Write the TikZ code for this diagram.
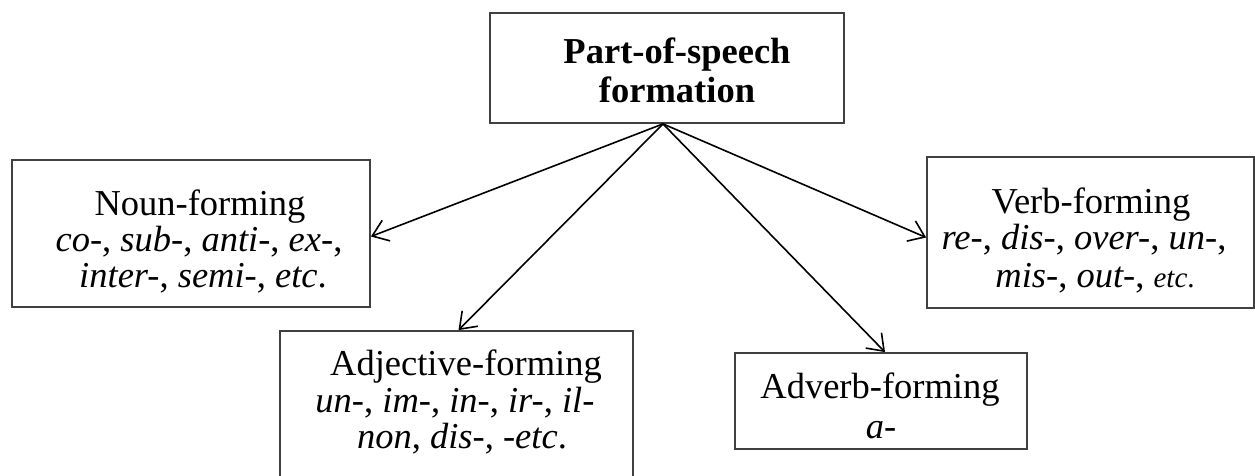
\documentclass[tikz,border=0pt]{standalone}
\usepackage{fontspec}
\setmainfont{Liberation Serif}
\usetikzlibrary{arrows.meta,calc}
\begin{document}
\begin{tikzpicture}[x=1pt,y=-1pt,
  box/.style={draw=black!75, line width=1.8pt, inner sep=0pt, rectangle},
  txt/.style={anchor=base, inner sep=0pt, font=\fontsize{36.5}{37}\selectfont},
  conn/.style={line width=1.6pt, -{Straight Barb[length=15pt,width=22pt,line width=1.6pt]}}]
\useasboundingbox (0,0) rectangle (1255,475);
\fill[white] (0,0) rectangle (1255,475);
% boxes
\node[box, minimum width=354pt, minimum height=110pt] (top) at (667,68) {};
\node[box, minimum width=358pt, minimum height=147pt] (noun) at (191,233.5) {};
\node[box, minimum width=327pt, minimum height=151pt] (verb) at (1090.5,232.5) {};
\node[box, minimum width=353pt, minimum height=165pt] (adj) at (456.5,413.5) {};
\node[box, minimum width=292pt, minimum height=96pt] (adv) at (881,401) {};
% texts
\node[txt] (top1) at (677,63) {\textbf{Part-of-speech}};
\node[txt] (top2) at (677,102) {\textbf{formation}};
\node[txt] (noun1) at (200,215) {Noun-forming};
\node[txt] (noun2) at (199,251) {\textit{co-}, \textit{sub-}, \textit{anti-}, \textit{ex-},};
\node[txt] (noun3) at (203,287) {\textit{inter-}, \textit{semi-}, \textit{etc}.};
\node[txt] (verb1) at (1091,213) {Verb-forming};
\node[txt] (verb2) at (1084,249) {\textit{re-}, \textit{dis-}, \textit{over-}, \textit{un-},};
\node[txt] (verb3) at (1095,287) {\textit{mis-}, \textit{out-}, {\fontsize{29}{30}\selectfont\textit{etc}.}};
\node[txt] (adj1) at (466,375) {Adjective-forming};
\node[txt] (adj2) at (455,412) {\textit{un-}, \textit{im-}, \textit{in-}, \textit{ir-}, \textit{il-}};
\node[txt] (adj3) at (462,448) {\textit{non}, \textit{dis-}, \textit{-etc}.};
\node[txt] (adv1) at (880,398) {Adverb-forming};
\node[txt] (adv2) at (881,438) {\textit{a-}};
% connectors
\coordinate (apex) at ($(top.south)+(-4,0)$);
\draw[conn] (apex) -- ([yshift=-3pt]noun.east);
\draw[conn] (apex) -- ([xshift=2pt]adj.north);
\draw[conn] (apex) -- ([xshift=4pt]adv.north);
\draw[conn] (apex) -- ([yshift=-5pt]verb.west);
\end{tikzpicture}
\end{document}
